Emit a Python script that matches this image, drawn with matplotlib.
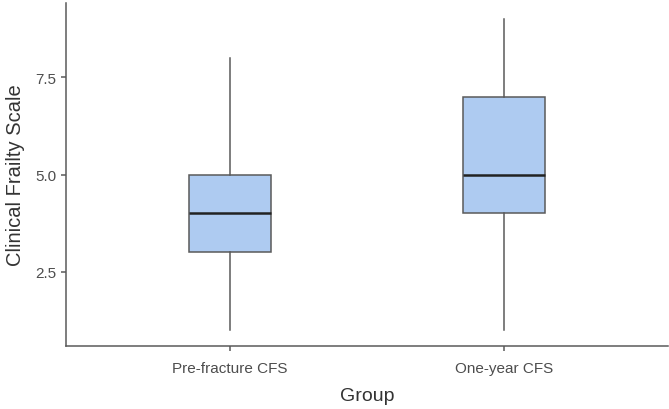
import matplotlib
matplotlib.use("Agg")
import matplotlib.pyplot as plt

plt.rcParams["font.family"] = ["Liberation Sans", "DejaVu Sans"]

groups = ["Pre-fracture CFS", "One-year CFS"]
whisker_low = [1, 1]
q1 = [3, 4]
median = [4, 5]
q3 = [5, 7]
whisker_high = [8, 9]

stats = []
for i, g in enumerate(groups):
    stats.append({
        "label": g,
        "whislo": whisker_low[i],
        "q1": q1[i],
        "med": median[i],
        "q3": q3[i],
        "whishi": whisker_high[i],
    })

fig = plt.figure(figsize=(6.69, 4.10), dpi=100)
ax = fig.add_axes([66 / 669, 1 - 347 / 410, 602 / 669, 343 / 410])

grey = "#5a5a5a"
ax.bxp(
    stats,
    positions=[1, 2],
    widths=0.3,
    showfliers=False,
    showcaps=False,
    patch_artist=True,
    boxprops=dict(facecolor="#aecbf1", edgecolor=grey, linewidth=1.1),
    medianprops=dict(color="#222222", linewidth=1.8),
    whiskerprops=dict(color=grey, linewidth=1.1),
)

ax.set_xlim(0.4, 2.6)
ax.set_ylim(0.6, 9.4)
ax.set_yticks([2.5, 5.0, 7.5])
ax.set_yticklabels(["2.5", "5.0", "7.5"])
ax.set_xticks([1, 2])
ax.set_xticklabels(groups)

for side in ["top", "right"]:
    ax.spines[side].set_visible(False)
for side in ["left", "bottom"]:
    ax.spines[side].set_color(grey)
    ax.spines[side].set_linewidth(1.1)

ax.tick_params(axis="both", colors=grey, length=3.5, width=1.1, labelsize=11,
               labelcolor="#4d4d4d")
ax.tick_params(axis="x", pad=7)
ax.tick_params(axis="y", pad=3.5)
ax.set_xlabel("Group", fontsize=14, color="#333333", labelpad=9)
ax.set_ylabel("Clinical Frailty Scale", fontsize=14.5, color="#333333", labelpad=7)

fig.savefig("out.png", dpi=100)
